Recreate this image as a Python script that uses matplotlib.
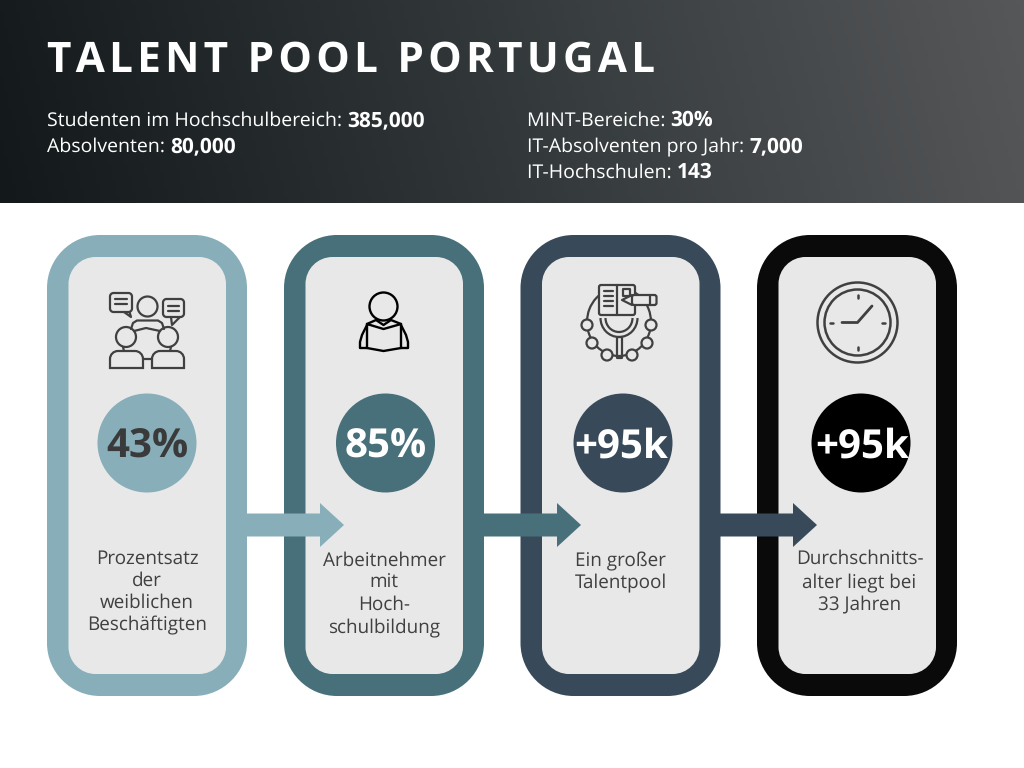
import numpy as np
import matplotlib
matplotlib.use("Agg")
import matplotlib.pyplot as plt
from matplotlib.patches import PathPatch, Circle, Polygon, Arc
from matplotlib.path import Path
from matplotlib.colors import LinearSegmentedColormap

plt.rcParams["font.family"] = "Open Sans"
plt.rcParams["text.hinting"] = "no_hinting"
plt.rcParams["text.hinting_factor"] = 8

TITLE = "TALENT POOL PORTUGAL"
left_stats = [("Studenten im Hochschulbereich: ", "385,000"), ("Absolventen: ", "80,000")]
right_stats = [("MINT-Bereiche: ", "30%"), ("IT-Absolventen pro Jahr: ", "7,000"), ("IT-Hochschulen: ", "143")]
values = ["43%", "85%", "+95k", "+95k"]
captions = [
    ["Prozentsatz", "der", "weiblichen", "Beschäftigten"],
    ["Arbeitnehmer", "mit", "Hoch-", "schulbildung"],
    ["Ein großer", "Talentpool"],
    ["Durchschnitts-", "alter liegt bei", "33 Jahren"],
]
ring_colors = ["#87aeb9", "#47707a", "#384a5a", "#0a0a0a"]
disc_colors = ["#87aeb9", "#47707a", "#384a5a", "#000000"]
value_colors = ["#3a3a3a", "#ffffff", "#ffffff", "#ffffff"]
GREY = "#404040"
PANEL = "#e8e8e8"
STAT_SIZE = 14.0

fig = plt.figure(figsize=(10.24, 7.68), dpi=100, facecolor="white")
ax = fig.add_axes([0, 0, 1, 1])
ax.set_xlim(0, 1024)
ax.set_ylim(768, 0)
ax.axis("off")


def round_rect(x0, y0, x1, y1, r):
    k = r * (1 - 0.5523)
    v = [(x0 + r, y0), (x1 - r, y0), (x1 - k, y0), (x1, y0 + k), (x1, y0 + r),
         (x1, y1 - r), (x1, y1 - k), (x1 - k, y1), (x1 - r, y1),
         (x0 + r, y1), (x0 + k, y1), (x0, y1 - k), (x0, y1 - r),
         (x0, y0 + r), (x0, y0 + k), (x0 + k, y0), (x0 + r, y0), (x0 + r, y0)]
    c = [Path.MOVETO, Path.LINETO, Path.CURVE4, Path.CURVE4, Path.CURVE4,
         Path.LINETO, Path.CURVE4, Path.CURVE4, Path.CURVE4,
         Path.LINETO, Path.CURVE4, Path.CURVE4, Path.CURVE4,
         Path.LINETO, Path.CURVE4, Path.CURVE4, Path.CURVE4, Path.CLOSEPOLY]
    return Path(v, c)


def rr(x0, y0, x1, y1, r, ec="none", lw=0, fc="none", z=6):
    ax.add_patch(PathPatch(round_rect(x0, y0, x1, y1, r), fc=fc, ec=ec, lw=lw, zorder=z))


# header
cmap = LinearSegmentedColormap.from_list("h", ["#13191b", "#33393b", "#565759"])
xx, yy = np.meshgrid(np.linspace(0, 1, 256), np.linspace(0, 1, 64))
ax.imshow(0.95 * xx + 0.05 * (1 - yy), extent=(0, 1024, 203.5, 0), cmap=cmap, aspect="auto", zorder=0, vmin=0, vmax=1)
ax.set_xlim(0, 1024)
ax.set_ylim(768, 0)

ax.text(47, 72, "\u200a".join(TITLE), color="white", fontsize=30.4, fontweight="bold",
        va="baseline", ha="left", zorder=5)

fig.canvas.draw()
rend = fig.canvas.get_renderer()


def stat(x, y, a, b):
    ax.text(x, y, a, color="white", fontsize=STAT_SIZE, va="baseline", ha="left", zorder=5)
    probe = ax.text(0, 0, a.rstrip() + " ·", fontsize=STAT_SIZE)
    dot = ax.text(0, 0, "·", fontsize=STAT_SIZE)
    w = probe.get_window_extent(rend).width - dot.get_window_extent(rend).width
    probe.remove()
    dot.remove()
    ax.text(x + w, y, b, color="white", fontsize=15, fontweight="bold", va="baseline", ha="left", zorder=5)


for (a, b), y in zip(left_stats, [126, 152]):
    stat(47, y, a, b)
for (a, b), y in zip(right_stats, [126, 152, 178]):
    stat(527, y, a, b)

# cards
card_x = [47, 284, 520.5, 757]
disc_x = [147, 385.5, 623, 861]
value_x = [147, 386, 621, 862]
caption_x = [147, 384, 620.5, 859.5]
caption_y = [[564, 586, 608, 630], [566, 588, 610, 633], [566, 588], [564, 588, 610]]
for i, x in enumerate(card_x):
    rr(x, 235, x + 200, 696, 53, fc=ring_colors[i], z=1)
    rr(x + 21.5, 257, x + 179, 674, 27, fc=PANEL, z=2)
    ax.add_patch(Circle((disc_x[i], 443), 49.5, fc=disc_colors[i], ec="none", zorder=3))
    ax.text(value_x[i], 458, values[i], color=value_colors[i], fontsize=29, fontweight="bold",
            ha="center", va="baseline", zorder=5)
    for line, y in zip(captions[i], caption_y[i]):
        ax.text(caption_x[i], y, line, color=GREY, fontsize=13.6, ha="center", va="baseline", zorder=5)

# arrows
for x0, tip, c in [(246, 344, ring_colors[0]), (483, 581, ring_colors[1]), (720, 817, ring_colors[2])]:
    pts = [(x0, 513.5), (tip - 24, 513.5), (tip - 24, 503), (tip, 525), (tip - 24, 547), (tip - 24, 536.5), (x0, 536.5)]
    ax.add_patch(Polygon(pts, closed=True, fc=c, ec="none", zorder=4))


# icons
def circ(x, y, r, c, lw, fc="none", z=6):
    ax.add_patch(Circle((x, y), r, fc=fc, ec=c, lw=lw, zorder=z))


def pl(xs, ys, c, lw, z=6):
    ax.plot(xs, ys, color=c, lw=lw, solid_capstyle="round", solid_joinstyle="round", zorder=z)


def torso(x0, x1, y0, y1, c, lw):
    r = 8
    k = r * 0.4477
    v = [(x0, y1), (x0, y0 + r), (x0, y0 + k), (x0 + k, y0), (x0 + r, y0), (x1 - r, y0),
         (x1 - k, y0), (x1, y0 + k), (x1, y0 + r), (x1, y1), (x0, y1), (x0, y1)]
    cd = [Path.MOVETO, Path.LINETO, Path.CURVE4, Path.CURVE4, Path.CURVE4, Path.LINETO,
          Path.CURVE4, Path.CURVE4, Path.CURVE4, Path.LINETO, Path.LINETO, Path.CLOSEPOLY]
    ax.add_patch(PathPatch(Path(v, cd), fc="none", ec=c, lw=lw, zorder=6))


L = 1.6
# icon 1
rr(110, 293, 132, 312, 3.5, GREY, L)
pl([124, 131, 129.5], [312, 317, 312], GREY, L)
pl([115, 127], [299, 299], GREY, L)
pl([115, 127], [304, 304], GREY, L)
rr(163, 299, 184, 317, 3.5, GREY, L)
pl([171, 172, 180], [317, 325, 317], GREY, L)
pl([168, 179], [306, 306], GREY, L)
pl([168, 179], [311, 311], GREY, L)
circ(147.5, 306.5, 10, GREY, L)
pl([131, 133, 137, 158, 162, 164], [329, 323, 320.5, 320.5, 323, 329], GREY, L)
pl([134, 146, 160], [331, 328, 331], GREY, L)
circ(126, 337, 10, GREY, L)
circ(168, 337, 10, GREY, L)
torso(110, 143, 351, 368, GREY, L)
torso(152, 184, 351, 368, GREY, L)
pl([143, 152], [359, 359], GREY, L)
pl([123, 124], [347, 351], GREY, L)
pl([171, 170], [347, 351], GREY, L)

# icon 2
B = "#000000"
K = 1.7
circ(383.5, 306.5, 14, B, K)
pl([367, 383.5, 401, 401, 383.5, 367, 367], [324, 329, 324, 348, 351, 348, 324], B, K)
pl([367, 376, 383.5, 391, 401], [324, 320, 325, 320, 324], B, K)
pl([367, 362, 360, 360, 367], [325, 335, 342, 348, 348], B, K)
pl([401, 406, 408, 408, 401], [325, 335, 342, 348, 348], B, K)

# icon 3
rr(599, 285, 635, 315, 2, GREY, L, fc=PANEL, z=6.5)
pl([617, 617], [285, 315], GREY, L, z=7)
for y in [291, 296, 301, 306]:
    pl([604, 613], [y, y], GREY, L, z=7)
rr(623, 289, 630, 296, 0.5, GREY, L, z=7)
rr(632, 295, 656.5, 305, 2, GREY, L, fc=PANEL, z=7)
pl([650, 650], [295, 305], GREY, L, z=7)
pl([632, 622, 632], [295, 300, 305], GREY, L, z=7)
ax.add_patch(Arc((619, 318), 37, 38, theta1=0, theta2=180, ec=GREY, lw=L, zorder=6))
ax.add_patch(Arc((619, 318), 27, 28, theta1=0, theta2=180, ec=GREY, lw=L, zorder=6))
rr(617, 337, 622, 358, 0.5, GREY, L)
for nx, ny in [(587, 325), (592, 343), (607, 355), (632, 355), (647, 343), (651, 325)]:
    circ(nx, ny, 5.5, GREY, L, fc=PANEL, z=6.3)
ax.add_patch(Arc((619, 322), 64, 68, theta1=0, theta2=360, ec=GREY, lw=L, zorder=5.5))

# icon 4
circ(857.5, 322.5, 40, GREY, L + 0.2)
circ(857.5, 322.5, 33, GREY, L + 0.2)
pl([842, 857.5, 872], [322.5, 322.5, 306], GREY, 2)
for a, b, c, d in [(857.5, 295, 857.5, 298), (857.5, 347, 857.5, 350), (830, 322.5, 833, 322.5), (882, 322.5, 885, 322.5)]:
    pl([a, c], [b, d], GREY, 1.8)

fig.savefig("out.png", dpi=100)
